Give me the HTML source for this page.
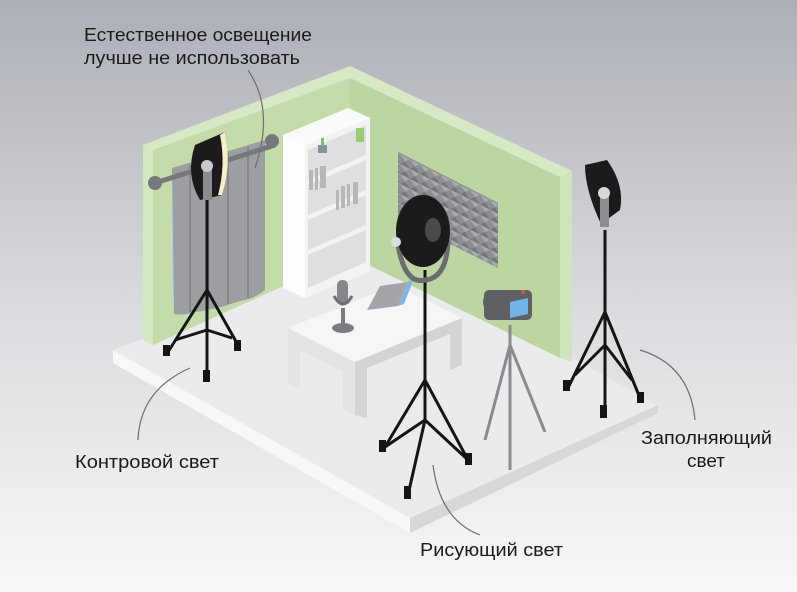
<!DOCTYPE html>
<html><head><meta charset="utf-8"><style>
html,body{margin:0;padding:0;width:797px;height:592px;overflow:hidden}
svg{display:block}
text{font-family:"Liberation Sans","DejaVu Sans",sans-serif;fill:#1a1a1a;font-size:18px}
</style></head><body>
<svg width="797" height="592" viewBox="0 0 797 592" xmlns="http://www.w3.org/2000/svg">
<defs>
<linearGradient id="bg" x1="0" y1="0" x2="0" y2="1">
<stop offset="0" stop-color="#acafb6"/><stop offset="0.55" stop-color="#dcdde0"/><stop offset="1" stop-color="#f7f7f8"/>
</linearGradient>
<pattern id="foam" width="10" height="10" patternUnits="userSpaceOnUse" patternTransform="skewY(27)">
<rect width="10" height="10" fill="#8e8f93"/><path d="M0 0L5 5L10 0Z" fill="#a9aaae"/><path d="M0 10L5 5L10 10Z" fill="#75767a"/>
</pattern>
</defs>
<rect width="797" height="592" fill="url(#bg)"/>
<!-- slab -->
<polygon points="113,350 410,518 410,533 113,363" fill="#f8f8f9"/>
<polygon points="410,518 658,405 658,413 410,533" fill="#d6d7d9"/>
<polygon points="113,350 150,336 350,250 572,358 658,405 410,518" fill="#ebebed"/>
<!-- left wall -->
<polygon points="153,150 350,78 350,256 153,345" fill="#c3dcaa"/>
<polygon points="143,145 153,150 153,345 143,340" fill="#d3e7c0"/>
<polygon points="143,145 350,66 350,78 153,150" fill="#d6e9c4"/>
<!-- right wall -->
<polygon points="350,78 560,177 560,358 350,256" fill="#bcd6a1"/>
<polygon points="560,177 572,171 572,362 560,358" fill="#cfe4bb"/>
<polygon points="350,66 572,171 560,177 350,78" fill="#d6e9c4"/>
<!-- foam -->
<polygon points="398,152 498,203 498,268 398,218" fill="url(#foam)"/>
<!-- window -->
<rect x="172" y="180" width="8" height="120" fill="#a9d3ef"/>
<!-- bookshelf -->
<polygon points="283,135 348,108 370,118 370,272 305,298 283,288" fill="#f3f3f4"/>
<polygon points="283,135 305,145 305,298 283,288" fill="#fdfdfd"/>
<polygon points="283,135 348,108 370,118 305,145" fill="#fafafa"/>
<g fill="#dedfe1">
<polygon points="308,150 366,125 366,155 308,180"/><polygon points="308,185 366,160 366,190 308,215"/>
<polygon points="308,220 366,195 366,225 308,250"/><polygon points="308,255 366,230 366,262 308,288"/>
</g>
<rect x="356" y="128" width="8" height="14" fill="#9ccd6c"/>
<rect x="318" y="145" width="9" height="8" fill="#8a8fa0"/><rect x="321" y="138" width="3" height="8" fill="#86b870"/>
<g fill="#b6b7ba"><rect x="309" y="170" width="4" height="20"/><rect x="315" y="168" width="3" height="22"/><rect x="320" y="166" width="6" height="22"/><rect x="336" y="190" width="3" height="20"/><rect x="341" y="186" width="4" height="22"/><rect x="347" y="184" width="3" height="22"/><rect x="353" y="182" width="5" height="22"/></g>
<!-- curtain -->
<path d="M172,168 L265,140 L265,290 Q255,298 245,300 Q235,302 225,306 Q210,310 195,312 Q182,316 174,314 Z" fill="#9d9ea2"/>
<g stroke="#86878b" stroke-width="2" fill="none"><path d="M190,165 L190,312"/><path d="M208,160 L208,308"/><path d="M228,153 L228,304"/><path d="M248,147 L248,298"/></g>
<line x1="155" y1="183" x2="275" y2="145" stroke="#77787c" stroke-width="5"/>
<circle cx="155" cy="183" r="7" fill="#77787c"/><circle cx="272" cy="141" r="7" fill="#77787c"/>
<!-- table -->
<polygon points="288,328 395,285 462,318 355,362" fill="#f6f6f7"/>
<polygon points="288,328 355,362 355,415 343,410 343,372 300,350 300,388 288,383" fill="#e4e4e6"/>
<polygon points="355,362 462,318 462,365 450,370 450,334 367,368 367,418 355,415" fill="#d3d3d6"/>
<!-- mic -->
<ellipse cx="343" cy="328" rx="11" ry="5" fill="#7a7b80"/><rect x="341" y="308" width="4" height="20" fill="#7a7b80"/>
<rect x="337" y="280" width="11" height="24" rx="5" fill="#86878c"/><path d="M334,296 Q343,312 352,296" stroke="#6f7075" stroke-width="3" fill="none"/>
<!-- laptop -->
<polygon points="367,310 380,286 408,282 398,306" fill="#a3a5aa"/><polygon points="398,306 408,282 415,276 404,304" fill="#7fb7e4"/>
<!-- left light -->
<g stroke="#151515" stroke-width="3" fill="none">
<line x1="207" y1="180" x2="207" y2="380"/><path d="M207,290 L168,352 M207,290 L238,345 M207,330 L175,340 M207,330 L232,338"/>
</g>
<path d="M195,145 L225,132 Q232,165 222,195 L200,200 Q185,175 195,145Z" fill="#1b1b1d"/>
<path d="M225,132 Q232,165 222,195 L218,195 Q226,165 220,135Z" fill="#f3efc8"/>
<rect x="203" y="166" width="9" height="34" fill="#8b8c90"/><circle cx="207" cy="166" r="6" fill="#c9cacd"/>
<!-- center light -->
<g stroke="#151515" stroke-width="3" fill="none">
<line x1="425" y1="270" x2="425" y2="420"/><path d="M425,380 L385,447 M425,380 L468,460 M425,420 L408,495 M425,420 L385,447 M425,420 L468,460"/>
</g>
<path d="M398,245 Q405,285 425,280 Q447,278 448,240" stroke="#6b6c70" stroke-width="5" fill="none"/>
<ellipse cx="423" cy="231" rx="27" ry="36" fill="#1b1b1d"/><ellipse cx="433" cy="230" rx="8" ry="12" fill="#4a4a4e"/>
<circle cx="396" cy="242" r="5" fill="#dcdcdf"/>
<g fill="#151515"><rect x="379" y="440" width="7" height="12"/><rect x="465" y="453" width="7" height="12"/><rect x="404" y="486" width="7" height="13"/></g>
<!-- camera -->
<g stroke="#8a8b90" stroke-width="3" fill="none"><path d="M510,325 L510,470 M510,345 L485,440 M510,345 L545,432"/></g>
<rect x="484" y="290" width="48" height="30" rx="5" fill="#5f6065"/><circle cx="494" cy="302" r="11" fill="#5f6065"/>
<polygon points="510,302 528,298 528,314 510,318" fill="#6fb5ea"/><circle cx="523" cy="292" r="2" fill="#e05050"/>
<!-- right light -->
<g stroke="#151515" stroke-width="3" fill="none">
<line x1="605" y1="230" x2="605" y2="418"/><path d="M605,312 L568,388 M605,312 L640,398 M605,345 L575,375 M605,345 L632,380"/>
</g>
<path d="M585,165 L607,160 Q625,185 620,210 L601,224 Q585,190 585,165Z" fill="#1b1b1d"/>
<rect x="600" y="195" width="9" height="32" fill="#8b8c90"/><circle cx="604" cy="193" r="6" fill="#d8d8db"/>
<g fill="#151515"><rect x="163" y="345" width="7" height="11"/><rect x="234" y="340" width="7" height="11"/><rect x="203" y="370" width="7" height="12"/><rect x="563" y="380" width="7" height="11"/><rect x="637" y="392" width="7" height="11"/><rect x="600" y="405" width="7" height="13"/></g>
<!-- connectors -->
<g stroke="#6e6f73" stroke-width="1.2" fill="none">
<path d="M248,70 Q275,110 255,168"/>
<path d="M190,368 Q140,390 138,440"/>
<path d="M640,350 Q690,365 695,420"/>
<path d="M433,465 Q440,520 480,535"/>
</g>
<text x="84" y="41" textLength="228" lengthAdjust="spacingAndGlyphs">Естественное освещение</text>
<text x="84" y="64" textLength="216" lengthAdjust="spacingAndGlyphs">лучше не использовать</text>
<text x="75" y="468" textLength="144" lengthAdjust="spacingAndGlyphs">Контровой свет</text>
<text x="641" y="444" textLength="131" lengthAdjust="spacingAndGlyphs">Заполняющий</text>
<text x="687" y="467" textLength="38" lengthAdjust="spacingAndGlyphs">свет</text>
<text x="420" y="556" textLength="143" lengthAdjust="spacingAndGlyphs">Рисующий свет</text>
</svg>
</body></html>
